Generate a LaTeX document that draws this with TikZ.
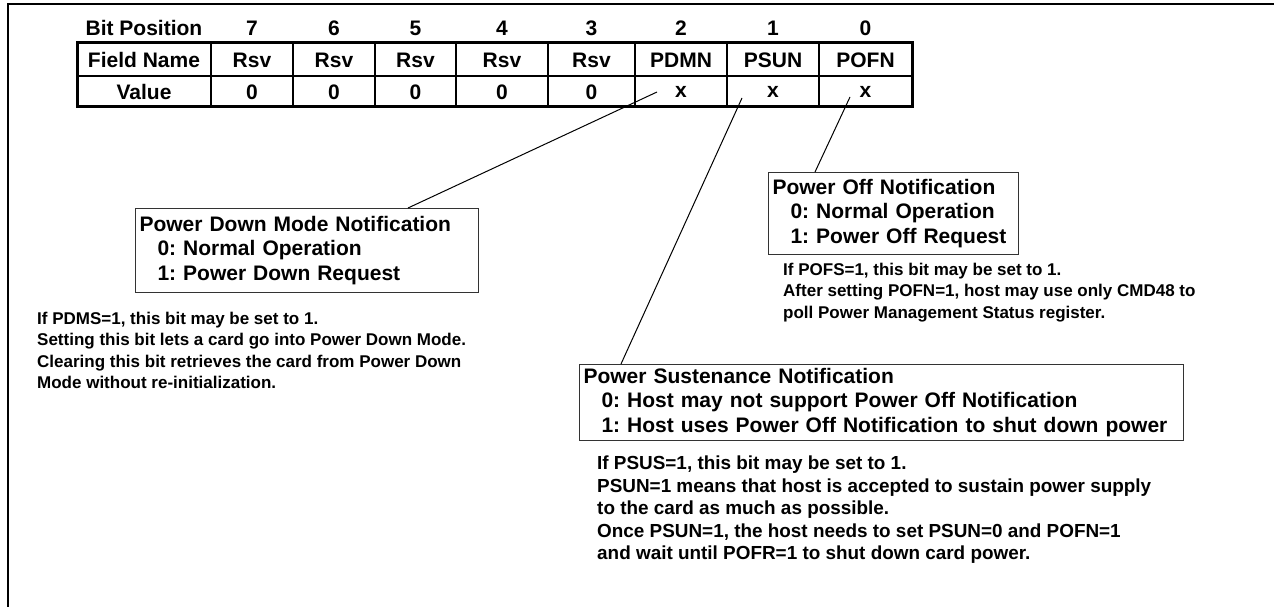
\documentclass[tikz,border=0pt]{standalone}
\usepackage{fontspec}
\setmainfont{Liberation Sans}
\frenchspacing
\begin{document}
\begin{tikzpicture}[x=1pt,y=-1pt,
  every node/.style={font=\bfseries\fontsize{21}{24.5}\selectfont, inner sep=0pt},
  cell/.style={anchor=center},
  tline/.style={line width=1.5pt},
  tborder/.style={line width=3pt},
  infobox/.style={draw=black!80, line width=1pt, anchor=north west, inner xsep=4pt, inner ysep=0pt, align=left},
  desc/.style={anchor=north west, align=left, font=\bfseries\fontsize{17}{21.4}\selectfont},
  descbig/.style={anchor=north west, align=left, font=\bfseries\fontsize{18.9}{22.5}\selectfont},
  conn/.style={line width=1pt},
  frameline/.style={line width=2.5pt}
]
\useasboundingbox (0,0) rectangle (1274,607);
% frame
\coordinate (ftl) at (8,4);
\coordinate (ftr) at (1274,4);
\coordinate (fbl) at (8,607);
\draw[frameline] (ftr) -- (ftl) -- (fbl);
% table grid
\coordinate (tnw) at (77,43);
\coordinate (tse) at (912,107);
\foreach \x in {211,293,375,456,548,635,727,819}{
  \draw[tline] (\x,43) -- (\x,107);
}
\draw[tline] (77,76) -- (912,76);
\draw[tborder] (tnw) rectangle (tse);
% header row
\node[cell] (hbp) at (144,28) {Bit Position};
\node[cell] (h7) at (252,28) {7};
\node[cell] (h6) at (334,28) {6};
\node[cell] (h5) at (415.5,28) {5};
\node[cell] (h4) at (502,28) {4};
\node[cell] (h3) at (591.5,28) {3};
\node[cell] (h2) at (681,28) {2};
\node[cell] (h1) at (773,28) {1};
\node[cell] (h0) at (865.5,28) {0};
% field row
\node[cell] (fn) at (144,60) {Field Name};
\node[cell] (f7) at (252,60) {Rsv};
\node[cell] (f6) at (334,60) {Rsv};
\node[cell] (f5) at (415.5,60) {Rsv};
\node[cell] (f4) at (502,60) {Rsv};
\node[cell] (f3) at (591.5,60) {Rsv};
\node[cell] (f2) at (681,60) {PDMN};
\node[cell] (f1) at (773,60) {PSUN};
\node[cell] (f0) at (865.5,60) {POFN};
% value row
\node[cell] (vn) at (144,92) {Value};
\node[cell] (v7) at (252,92) {0};
\node[cell] (v6) at (334,92) {0};
\node[cell] (v5) at (415.5,92) {0};
\node[cell] (v4) at (502,92) {0};
\node[cell] (v3) at (591.5,92) {0};
\node[cell] (v2) at (681,92) {x};
\node[cell] (v1) at (773,92) {x};
\node[cell] (v0) at (865.5,92) {x};
% connector start points
\coordinate (c2) at (657,92);
\coordinate (c1) at (742,98);
\coordinate (c0) at (850,97);
% boxes
\node[infobox, minimum height=84pt, text width=335pt] (pdm) at (135,208)
  {\rule{0pt}{4pt}Power Down Mode Notification\\\hspace*{18pt}0: Normal Operation\\\hspace*{18pt}1: Power Down Request};
\node[infobox, minimum height=82pt, text width=242pt] (pof) at (768,172)
  {\rule{0pt}{4pt}Power Off Notification\\\hspace*{18pt}0: Normal Operation\\\hspace*{18pt}1: Power Off Request};
\node[infobox, minimum height=76pt, text width=596pt] (psn) at (579,364)
  {Power Sustenance Notification\\\hspace*{18pt}0: Host may not support Power Off Notification\\\hspace*{18pt}1: Host uses Power Off Notification to shut down power};
% descriptions
\node[desc] (pdmd) at (37,312)
  {If PDMS=1, this bit may be set to 1.\\Setting this bit lets a card go into Power Down Mode.\\Clearing this bit retrieves the card from Power Down\\Mode without re-initialization.};
\node[desc] (pofd) at (783,263)
  {If POFS=1, this bit may be set to 1.\\After setting POFN=1, host may use only CMD48 to\\poll Power Management Status register.};
\node[descbig] (psnd) at (597,456)
  {If PSUS=1, this bit may be set to 1.\\PSUN=1 means that host is accepted to sustain power supply\\to the card as much as possible.\\Once PSUN=1, the host needs to set PSUN=0 and POFN=1\\and wait until POFR=1 to shut down card power.};
% connectors
\draw[conn] (c2) -- (408,0 |- pdm.north);
\draw[conn] (c1) -- (621,0 |- psn.north);
\draw[conn] (c0) -- (815,0 |- pof.north);
\end{tikzpicture}
\end{document}
